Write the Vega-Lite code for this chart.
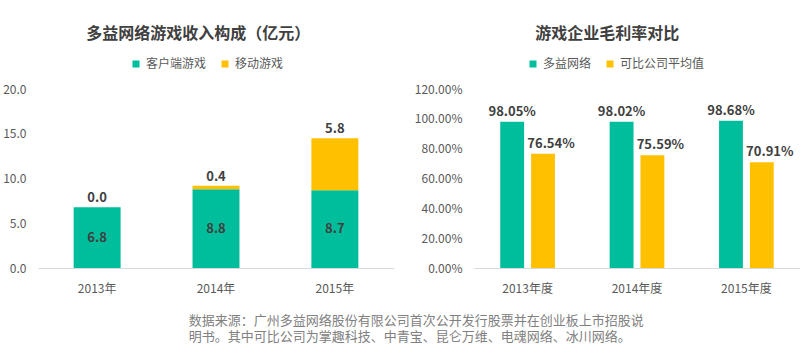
{
  "$schema": "https://vega.github.io/schema/vega-lite/v6.json",
  "padding": {"left": 2, "top": 26, "right": 0, "bottom": 2},
  "background": "white",
  "config": {
    "view": {"stroke": null},
    "font": "Noto Sans CJK SC",
    "axis": {"labelFont": "Noto Sans CJK SC", "labelFontSize": 12, "labelColor": "#595959", "title": null, "grid": false, "ticks": false},
    "legend": {"labelFont": "Noto Sans CJK SC", "labelFontSize": 12, "labelColor": "#595959", "symbolType": "square", "symbolSize": 49, "symbolStrokeWidth": 0, "columnPadding": 12, "labelOffset": 4, "title": null}
  },
  "title": {
    "text": ["数据来源：广州多益网络股份有限公司首次公开发行股票并在创业板上市招股说", "明书。其中可比公司为掌趣科技、中青宝、昆仑万维、电魂网络、冰川网络。"],
    "orient": "bottom", "anchor": "start", "dx": 186, "offset": 21,
    "fontSize": 13, "fontWeight": "normal", "color": "#808080", "lineHeight": 16, "font": "Noto Sans CJK SC"
  },
  "datasets": {
    "revenue": [
      {"year": "2013年", "series": "客户端游戏", "value": 6.8},
      {"year": "2013年", "series": "移动游戏", "value": 0.0},
      {"year": "2014年", "series": "客户端游戏", "value": 8.8},
      {"year": "2014年", "series": "移动游戏", "value": 0.4},
      {"year": "2015年", "series": "客户端游戏", "value": 8.7},
      {"year": "2015年", "series": "移动游戏", "value": 5.8}
    ],
    "margin": [
      {"year": "2013年度", "series": "多益网络", "value": 0.9805},
      {"year": "2013年度", "series": "可比公司平均值", "value": 0.7654},
      {"year": "2014年度", "series": "多益网络", "value": 0.9802},
      {"year": "2014年度", "series": "可比公司平均值", "value": 0.7559},
      {"year": "2015年度", "series": "多益网络", "value": 0.9868},
      {"year": "2015年度", "series": "可比公司平均值", "value": 0.7091}
    ]
  },
  "spacing": 20,
  "resolve": {"scale": {"color": "independent"}},
  "hconcat": [
    {
      "width": 356,
      "height": 179,
      "data": {"name": "revenue"},
      "title": {"text": "多益网络游戏收入构成（亿元）", "fontSize": 16, "fontWeight": "bold", "color": "#404040", "anchor": "middle", "frame": "bounds", "offset": 16},
      "transform": [
        {"stack": "value", "groupby": ["year"], "sort": [{"field": "series", "order": "ascending"}], "as": ["v0", "v1"]}
      ],
      "encoding": {
        "x": {"field": "year", "type": "nominal", "scale": {"paddingInner": 0.605, "paddingOuter": 0.3},
          "axis": {"labelAngle": 0, "domainColor": "#D9D9D9", "labelPadding": 15}}
      },
      "layer": [
        {
          "mark": {"type": "bar"},
          "encoding": {
            "y": {"field": "v1", "type": "quantitative", "scale": {"domain": [0, 20]},
              "axis": {"values": [0, 5, 10, 15, 20], "format": ".1f", "domain": false, "labelPadding": 12}},
            "y2": {"field": "v0"},
            "color": {"field": "series", "type": "nominal",
              "scale": {"domain": ["客户端游戏", "移动游戏"], "range": ["#00BE9C", "#FFC000"]},
              "legend": {"orient": "none", "direction": "horizontal", "legendX": 92, "legendY": -31}}
          }
        },
        {
          "transform": [{"filter": "datum.series === '移动游戏'"}],
          "mark": {"type": "text", "baseline": "bottom", "dy": -2, "fontSize": 13, "fontWeight": "bold", "color": "#404040"},
          "encoding": {
            "y": {"field": "v1", "type": "quantitative", "scale": {"domain": [0, 20]}, "axis": null},
            "text": {"field": "value", "type": "quantitative", "format": ".1f"}
          }
        },
        {
          "transform": [{"filter": "datum.series === '客户端游戏'"}],
          "mark": {"type": "text", "baseline": "middle", "fontSize": 13, "fontWeight": "bold", "color": "#404040"},
          "encoding": {
            "y": {"field": "v1", "type": "quantitative", "scale": {"domain": [0, 40]}, "axis": null},
            "text": {"field": "value", "type": "quantitative", "format": ".1f"}
          }
        }
      ],
      "resolve": {"scale": {"y": "independent"}}
    },
    {
      "width": 326,
      "height": 179,
      "data": {"name": "margin"},
      "title": {"text": "游戏企业毛利率对比", "fontSize": 16, "fontWeight": "bold", "color": "#404040", "anchor": "middle", "frame": "bounds", "offset": 16},
      "encoding": {
        "x": {"field": "year", "type": "nominal", "scale": {"paddingInner": 0.5, "paddingOuter": 0.24},
          "axis": {"labelAngle": 0, "domainColor": "#D9D9D9", "labelPadding": 15}},
        "xOffset": {"field": "series", "type": "nominal", "scale": {"domain": ["多益网络", "可比公司平均值"], "paddingInner": 0.226, "paddingOuter": 0}},
        "y": {"field": "value", "type": "quantitative", "scale": {"domain": [0, 1.2]},
          "axis": {"values": [0, 0.2, 0.4, 0.6, 0.8, 1.0, 1.2], "format": ".2%", "domain": false, "labelPadding": 12}}
      },
      "layer": [
        {
          "mark": {"type": "bar"},
          "encoding": {
            "color": {"field": "series", "type": "nominal",
              "scale": {"domain": ["多益网络", "可比公司平均值"], "range": ["#00BE9C", "#FFC000"]},
              "legend": {"orient": "none", "direction": "horizontal", "legendX": 53, "legendY": -31}}
          }
        },
        {
          "transform": [{"filter": "datum.series === '多益网络'"}],
          "mark": {"type": "text", "baseline": "bottom", "dy": -3, "fontSize": 13, "fontWeight": "bold", "color": "#404040"},
          "encoding": {"text": {"field": "value", "type": "quantitative", "format": ".2%"}}
        },
        {
          "transform": [{"filter": "datum.series === '可比公司平均值'"}],
          "mark": {"type": "text", "baseline": "bottom", "dy": -3, "dx": 8, "fontSize": 13, "fontWeight": "bold", "color": "#404040"},
          "encoding": {"text": {"field": "value", "type": "quantitative", "format": ".2%"}}
        }
      ]
    }
  ]
}
